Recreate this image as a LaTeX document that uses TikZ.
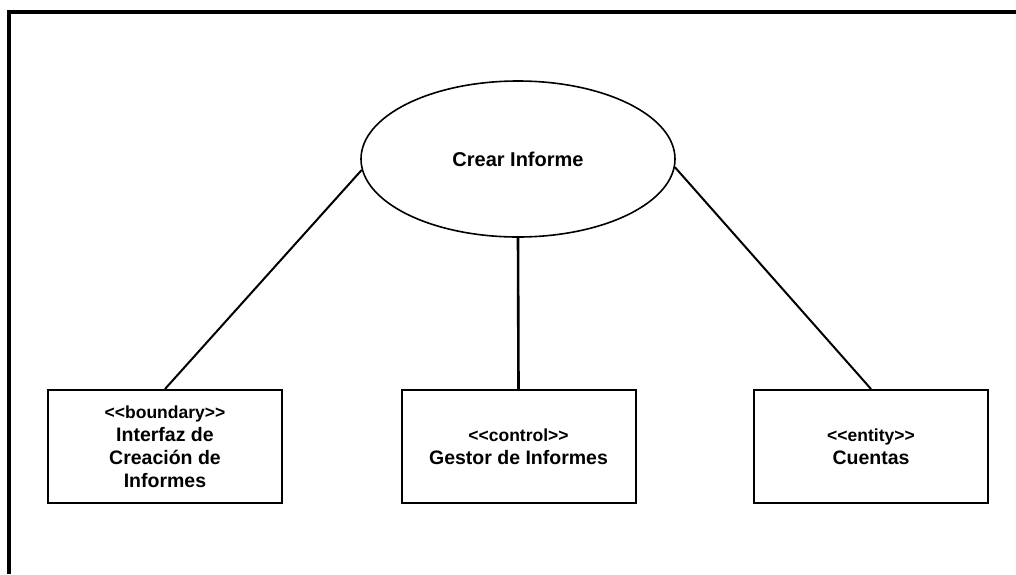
\documentclass[tikz,border=0pt]{standalone}
\usepackage{fontspec}
\setmainfont{Liberation Sans}
\usetikzlibrary{shapes.geometric}
\newcommand{\stereo}[1]{{\fontsize{17.5}{23}\selectfont {<}{<}#1{>}{>}}}
\begin{document}
\begin{tikzpicture}[x=1pt,y=-1pt,
  usecase/.style={ellipse,draw,line width=1.6pt,minimum width=314pt,minimum height=156pt,inner sep=0pt,
    font=\bfseries\fontsize{20}{23}\selectfont},
  classbox/.style={rectangle,draw,line width=2pt,minimum width=234pt,minimum height=113pt,inner sep=0pt,
    align=center,font=\bfseries\fontsize{19.5}{23}\selectfont},
  link/.style={line width=2pt},
  frameline/.style={line width=4pt}]
  \useasboundingbox (0,0) rectangle (1016,574);

  % outer frame (top and left edges only)
  \draw[frameline] (1016,12) -- (9,12) -- (9,574);

  % use case
  \node[usecase] (uc) at (518,159) {Crear Informe};

  % analysis classes
  \node[classbox] (bnd) at (165,446.5) {\stereo{boundary}\\Interfaz de\\Creación de\\Informes};
  \node[classbox] (ctl) at (518.5,446.5) {\stereo{control}\\Gestor de Informes};
  \node[classbox] (ent) at (871,446.5) {\stereo{entity}\\Cuentas};

  % associations
  \draw[link] (uc.184) -- (bnd.north);
  \draw[link,line width=2.6pt] (uc.south) -- (ctl.north);
  \draw[link] (uc.-3) -- (ent.north);
\end{tikzpicture}
\end{document}
